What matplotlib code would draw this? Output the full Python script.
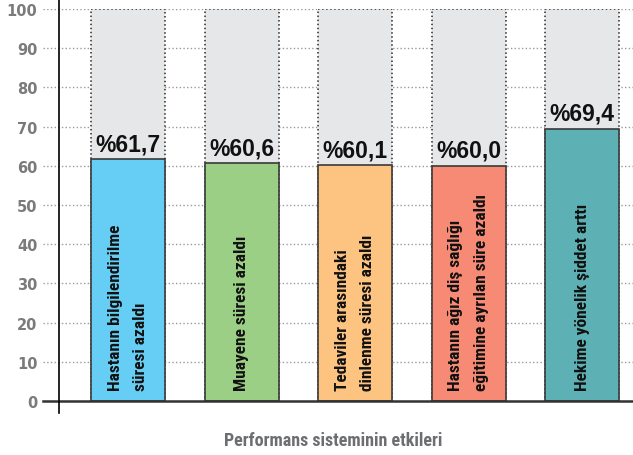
import matplotlib
matplotlib.use("Agg")
import matplotlib.pyplot as plt

# data
labels = ["Hastanın bilgilendirilme\nsüresi azaldı",
          "Muayene süresi azaldı",
          "Tedaviler arasındaki\ndinlenme süresi azaldı",
          "Hastanın ağız diş sağlığı\neğitimine ayrılan süre azaldı",
          "Hekime yönelik şiddet arttı"]
values = [61.7, 60.6, 60.1, 60.0, 69.4]
value_text = ["%61,7", "%60,6", "%60,1", "%60,0", "%69,4"]
colors = ["#66cef5", "#9ccf86", "#fdc381", "#f68a74", "#5db1b5"]
yticks = [0, 10, 20, 30, 40, 50, 60, 70, 80, 90, 100]
xlabel = "Performans sisteminin etkileri"

narrow = ["Roboto Condensed", "Liberation Sans Narrow", "Roboto", "DejaVu Sans"]

fig = plt.figure(figsize=(6.33, 4.56), dpi=100)
ax = fig.add_axes([43/633, 54/456, 590/633, 392/456])

x = list(range(len(values)))
w = 0.652

# grey 100% background with dotted outline
ax.bar(x, [100]*len(x), width=w, color="#e6e7e9", edgecolor="#2a2a2a",
       linestyle=":", linewidth=1.1, zorder=2)
ax.bar(x, values, width=w, color=colors, edgecolor="#3a3a3a",
       linewidth=1.2, zorder=3)

for i in x:
    ax.text(i, values[i] + 2.3, value_text[i], ha="center", va="baseline",
            fontsize=16.5, fontweight="bold", family="Liberation Sans",
            color="#111111", zorder=4)
    ax.text(i, 2.8, labels[i], rotation=90, ha="center", va="bottom",
            multialignment="left", fontsize=12.5, fontweight="bold",
            family=narrow, color="#111111", linespacing=1.9, zorder=4)

ax.set_xlim(-0.749, 4.449)
ax.set_ylim(0, 100)
ax.set_yticks(yticks)
ax.set_xticks([])
ax.tick_params(axis="y", length=0, pad=4, labelsize=10.5, labelcolor="#7b7b7b")
for t in ax.get_yticklabels():
    t.set_fontweight("bold")

ax.grid(axis="y", linestyle=":", color="#9a9a9a", linewidth=1, zorder=0)
ax.set_axisbelow(True)
for s in ax.spines.values():
    s.set_visible(False)

ax.axhline(0, color="#333333", linewidth=1.8, zorder=5, clip_on=False)
ax.axvline(-0.608, ymin=-0.031, ymax=1.026, color="black", linewidth=1.2,
           zorder=5, clip_on=False)

fig.text(333/633, 1 - 441/456, xlabel, ha="center", va="center",
         fontsize=13, fontweight="bold", family=narrow, color="#6d6e71")

fig.savefig("out.png", dpi=100)
